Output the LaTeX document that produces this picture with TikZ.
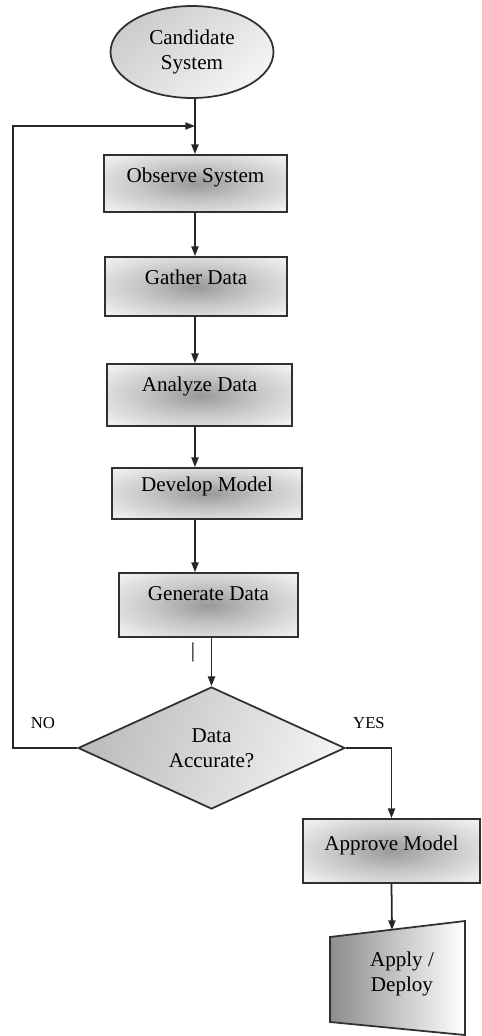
\documentclass[tikz,border=0pt]{standalone}
\usepackage{fontspec}
\setmainfont{Liberation Serif}
\usetikzlibrary{arrows.meta,shapes.geometric}
\definecolor{fline}{HTML}{303030}
\pgfdeclareradialshading{boxglow}{\pgfpoint{0bp}{0bp}}{color(0bp)=(black!40); color(14bp)=(black!24); color(32bp)=(black!7); color(46bp)=(white); color(72bp)=(white)}

\begin{document}
\begin{tikzpicture}[x=0.02cm, y=-0.02cm, >={Triangle[length=5.5pt,width=4pt]}, line width=1pt,
    font=\fontsize{12}{14.5}\selectfont]
  \tikzset{
    procbox/.style={rectangle, draw=fline, shade, shading=boxglow, inner sep=0pt, text height=0.54cm},
    flow/.style={->, draw=black!85},
    tag/.style={font=\fontsize{9.5}{11}\selectfont}
  }
  \useasboundingbox (0,0) rectangle (481,1036);
  \coordinate (spine) at (195,0);     % the main vertical line
  \coordinate (loopx) at (13,0);      % left edge of the NO loop
  \coordinate (join)  at (195,126);   % where the loop comes back in

  % start
  \node[ellipse, draw=fline, shade, top color=black!20, bottom color=black!4, shading angle=40,
        minimum width=3.26cm, minimum height=1.84cm, inner sep=0pt, align=center]
        (cand) at (192,52) {Candidate\\System};

  % process steps
  \node[procbox, minimum width=3.66cm, text depth=0.6cm]  (obs) at (195.5,183.5) {Observe System};
  \node[procbox, minimum width=3.64cm, text depth=0.64cm] (gat) at (196,286.5)   {Gather Data};
  \node[procbox, minimum width=3.7cm,  text depth=0.7cm]  (ana) at (199.5,395)   {Analyze Data};
  \node[procbox, minimum width=3.8cm,  text height=0.46cm, text depth=0.56cm] (dev) at (207,493.5) {Develop Model};
  \node[procbox, minimum width=3.58cm, text depth=0.74cm] (gen) at (208.5,605)   {Generate Data};
  \node (cursor) at (193,652) {|};

  % decision
  \node[diamond, draw=fline, shade, left color=black!26, right color=black!5, shading angle=70,
        minimum width=5.34cm, minimum height=2.44cm, aspect=2.2, inner sep=0pt, align=center]
        (dec) at (211.5,748) {Data\\Accurate?};
  \node[tag] (no)  at (43,723)  {NO};
  \node[tag] (yes) at (369,723) {YES};

  % approval and deployment
  \node[procbox, minimum width=3.54cm, text height=0.62cm, text depth=0.66cm] (appr) at (391.5,851) {Approve Model};
  \shade[draw=fline, left color=black!45, right color=white]
    (330,937) -- (465,921) -- (465,1035) -- (330,1022) -- cycle;
  \node[align=center] (apply) at (402,974) {Apply /\\Deploy};
  \coordinate (applytop) at (392,930);

  % connectors
  \draw[flow] (cand.south -| spine) -- (obs.north -| spine);
  \foreach \a/\b in {obs/gat, gat/ana, ana/dev, dev/gen}
    \draw[flow] (\a.south -| spine) -- (\b.north -| spine);
  \draw[flow] (gen.south -| dec) -- (dec.north);
  \draw[flow] (dec.west) -- (dec.west -| loopx) |- (join);
  \draw[flow] (dec.east) -| (appr.north);
  \draw[flow] (appr.south) -- (applytop);
\end{tikzpicture}
\end{document}
